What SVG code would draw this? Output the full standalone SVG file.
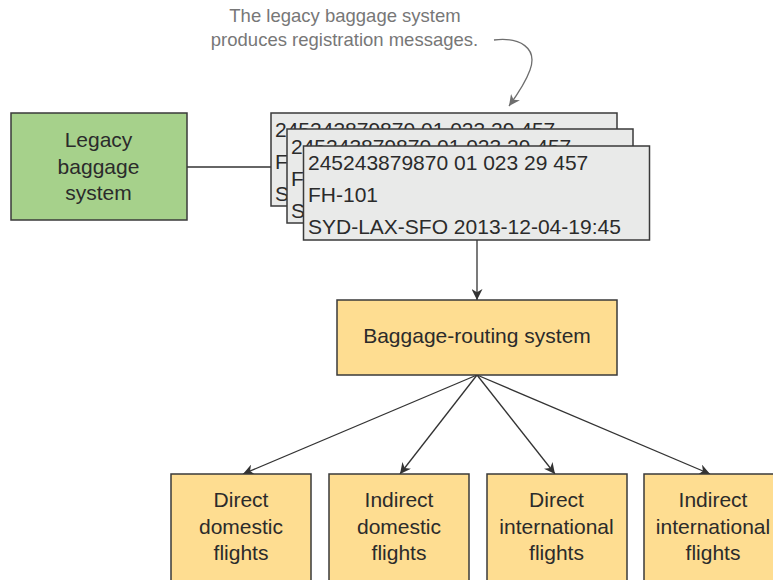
<svg xmlns="http://www.w3.org/2000/svg" width="773" height="580" viewBox="0 0 773 580">
<defs>
<style>
.t{font-family:"Liberation Sans",Arial,sans-serif;font-size:21px;fill:#2b2b2b}
.c{text-anchor:middle}
.note{font-family:"Liberation Sans",Arial,sans-serif;font-size:18.5px;fill:#777;text-anchor:middle}
.yel{fill:#fedd91;stroke:#3a3a3a;stroke-width:1.5}
.grn{fill:#a6d18b;stroke:#3a3a3a;stroke-width:1.5}
.msg{fill:#e9eae9;stroke:#3a3a3a;stroke-width:1.5}
.ln{stroke:#333;stroke-width:1.3;fill:none}
</style>
<marker id="ah" viewBox="0 0 10 10" refX="10" refY="5" markerWidth="11" markerHeight="11" markerUnits="userSpaceOnUse" orient="auto">
<path d="M0,0 L10,5 L0,10 L3,5 Z" fill="#333"/>
</marker>
<marker id="ahg" viewBox="0 0 10 10" refX="10" refY="5" markerWidth="11" markerHeight="11" markerUnits="userSpaceOnUse" orient="auto">
<path d="M0,0 L10,5 L0,10 L3,5 Z" fill="#6e6e6e"/>
</marker>
</defs>
<rect width="773" height="580" fill="#fff"/>

<g id="annotation">
<text class="note" x="345" y="22">The legacy baggage system</text>
<text class="note" x="344.5" y="46">produces registration messages.</text>
</g>

<g id="connectors">
<line class="ln" x1="187" y1="167" x2="272" y2="167"/>
<path d="M494,40 C520,37 538,48 530,70 C525,84 517,95 509,106" fill="none" stroke="#6e6e6e" stroke-width="1.3" marker-end="url(#ahg)"/>
<line class="ln" x1="477" y1="240" x2="477" y2="300" marker-end="url(#ah)"/>
<line class="ln" x1="477" y1="375" x2="243" y2="474" marker-end="url(#ah)"/>
<line class="ln" x1="477" y1="375" x2="400" y2="474" marker-end="url(#ah)"/>
<line class="ln" x1="477" y1="375" x2="555" y2="474" marker-end="url(#ah)"/>
<line class="ln" x1="477" y1="375" x2="710" y2="474" marker-end="url(#ah)"/>
</g>

<g id="legacy">
<rect class="grn" x="11" y="113" width="176" height="107"/>
<text class="t c" x="98.5" y="147">Legacy</text>
<text class="t c" x="98.5" y="173.5">baggage</text>
<text class="t c" x="98.5" y="200">system</text>
</g>

<g id="message1">
<rect class="msg" x="271" y="113" width="346" height="93"/>
<text class="t" x="275" y="137">245243879870 01 023 29 457</text>
<text class="t" x="275" y="169">F</text>
<text class="t" x="275" y="201">S</text>
</g>
<g id="message2">
<rect class="msg" x="287" y="129" width="346" height="94"/>
<text class="t" x="291" y="153.5">245243879870 01 023 29 457</text>
<text class="t" x="291" y="185.5">F</text>
<text class="t" x="291" y="217.5">S</text>
</g>
<g id="message3">
<rect class="msg" x="303.5" y="146" width="346" height="94"/>
<text class="t" x="308" y="170">245243879870 01 023 29 457</text>
<text class="t" x="308" y="202">FH-101</text>
<text class="t" x="308" y="234">SYD-LAX-SFO 2013-12-04-19:45</text>
</g>

<g id="routing">
<rect class="yel" x="337" y="300" width="280" height="75"/>
<text class="t c" x="477" y="343">Baggage-routing system</text>
</g>

<g id="direct-domestic">
<rect class="yel" x="171" y="474" width="140" height="116"/>
<text class="t c" x="241" y="507">Direct</text>
<text class="t c" x="241" y="533.5">domestic</text>
<text class="t c" x="241" y="560">flights</text>
</g>
<g id="indirect-domestic">
<rect class="yel" x="329" y="474" width="140" height="116"/>
<text class="t c" x="399" y="507">Indirect</text>
<text class="t c" x="399" y="533.5">domestic</text>
<text class="t c" x="399" y="560">flights</text>
</g>
<g id="direct-international">
<rect class="yel" x="487" y="474" width="140" height="116"/>
<text class="t c" x="556.5" y="507">Direct</text>
<text class="t c" x="556.5" y="533.5">international</text>
<text class="t c" x="556.5" y="560">flights</text>
</g>
<g id="indirect-international">
<rect class="yel" x="644" y="474" width="140" height="116"/>
<text class="t c" x="713" y="507">Indirect</text>
<text class="t c" x="713" y="533.5">international</text>
<text class="t c" x="713" y="560">flights</text>
</g>
</svg>
